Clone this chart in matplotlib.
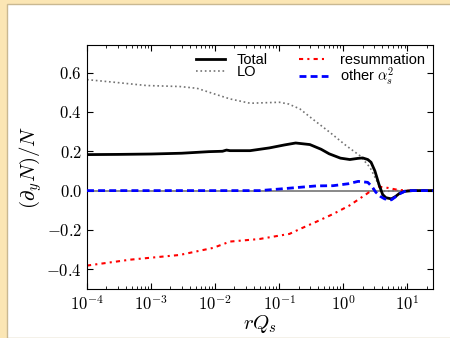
import matplotlib
matplotlib.use('Agg')
import matplotlib.pyplot as plt
import numpy as np
from matplotlib.patches import Rectangle
from matplotlib.ticker import FixedLocator, FuncFormatter, LogLocator

plt.rcParams['mathtext.fontset'] = 'cm'
plt.rcParams['font.family'] = ['Liberation Sans', 'DejaVu Sans']

# Total
r_tot = [1e-4, 3e-4, 1e-3, 3e-3, 8e-3, 1.3e-2, 1.5e-2, 1.7e-2, 3.5e-2, 7e-2, 0.12, 0.18,
         0.3, 0.45, 0.6, 0.9, 1.26, 1.7, 2.0, 2.4, 2.7, 3.1, 3.6, 4.1, 4.6, 5.6, 6.5,
         7.5, 9, 12, 25]
v_tot = [0.183, 0.184, 0.186, 0.19, 0.198, 0.2, 0.206, 0.203, 0.203, 0.217, 0.232, 0.242,
         0.234, 0.21, 0.187, 0.165, 0.158, 0.164, 0.166, 0.158, 0.144, 0.10, 0.03, -0.02,
         -0.036, -0.042, -0.03, -0.014, -0.004, 0.0, 0.0]

# LO
r_lo = [1e-4, 2.6e-4, 8.5e-4, 2.8e-3, 5.2e-3, 1e-2, 1.7e-2, 3.5e-2, 0.1, 0.14, 0.21,
        0.33, 0.61, 1.1, 1.8, 2.6, 3.2, 3.8, 4.5, 6, 10, 25]
v_lo = [0.564, 0.551, 0.534, 0.529, 0.52, 0.49, 0.466, 0.444, 0.449, 0.44, 0.415,
        0.364, 0.297, 0.229, 0.178, 0.118, 0.06, 0.01, -0.005, 0.0, 0.0, 0.0]

# resummation
r_res = [1e-4, 4.7e-4, 2.8e-3, 9.3e-3, 1.7e-2, 4.9e-2, 0.144, 0.21, 0.38, 0.69, 1.24,
         2.3, 3.0, 3.6, 4.9, 7, 10, 25]
v_res = [-0.381, -0.351, -0.327, -0.291, -0.259, -0.246, -0.22, -0.195, -0.158, -0.119,
         -0.076, -0.017, 0.01, 0.02, 0.014, 0.004, 0.0, 0.0]

# other alpha_s^2
r_oth = [1e-4, 0.01, 0.049, 0.1, 0.38, 0.69, 1.2, 1.7, 2.4, 2.8, 3.2, 3.8, 4.4, 5.6,
         7.5, 9.5, 25]
v_oth = [0.0, 0.0, 0.0, 0.008, 0.024, 0.025, 0.035, 0.047, 0.042, 0.02, -0.008, -0.03,
         -0.042, -0.047, -0.017, 0.0, 0.0]

yticks = [-0.4, -0.2, 0.0, 0.2, 0.4, 0.6]
xticks = [1e-4, 1e-3, 1e-2, 1e-1, 1e0, 1e1]

fig = plt.figure(figsize=(4.5, 3.38), dpi=100)
fig.patch.set_facecolor('#fbe6b4')
fig.add_artist(Rectangle((7/450, 0), 1, 1 - 4/338, transform=fig.transFigure,
                         facecolor='white', edgecolor='#c9b891', lw=1.0, zorder=-5))

ax = fig.add_axes([87/450, 1 - 289/338, 346/450, 244/338])
ax.axhline(0, color='0.5', lw=1.3, zorder=1)
ax.plot(r_tot, v_tot, color='black', lw=2, label='Total', zorder=3)
ax.plot(r_lo, v_lo, color='0.45', lw=1.2, ls=':', label='LO', zorder=2)
ax.plot(r_res, v_res, color='red', lw=1.5, dashes=(2, 2, 1, 2), label='resummation', zorder=2)
ax.plot(r_oth, v_oth, color='blue', lw=2, dashes=(2.5, 1.5), label=r'other $\alpha_s^2$', zorder=4)

ax.set_xscale('log')
ax.set_xlim(1e-4, 25)
ax.set_ylim(-0.5, 0.74)
ax.xaxis.set_major_locator(FixedLocator(xticks))
ax.xaxis.set_minor_locator(LogLocator(base=10, subs=np.arange(2, 10)))
ax.xaxis.set_major_formatter(FuncFormatter(lambda v, p: r'$10^{%d}$' % round(np.log10(v))))
ax.yaxis.set_major_locator(FixedLocator(yticks))
ax.yaxis.set_major_formatter(FuncFormatter(lambda v, p: r'$%.1f$' % v))
ax.tick_params(which='both', direction='in', top=True, right=True, labelsize=12)
ax.tick_params(which='major', length=4)
ax.tick_params(which='minor', length=2)

ax.set_xlabel(r'$rQ_s$', fontsize=15, labelpad=0)
ax.set_ylabel(r'$(\partial_y N)/N$', fontsize=15, labelpad=2)

ax.legend(ncol=2, loc='upper right', bbox_to_anchor=(1.005, 1.01), frameon=False,
          fontsize=10.5, handlelength=2.0, labelspacing=-0.1, columnspacing=2.1,
          handletextpad=0.8, borderaxespad=0.3)

fig.savefig('out.png', dpi=100, facecolor=fig.get_facecolor())
